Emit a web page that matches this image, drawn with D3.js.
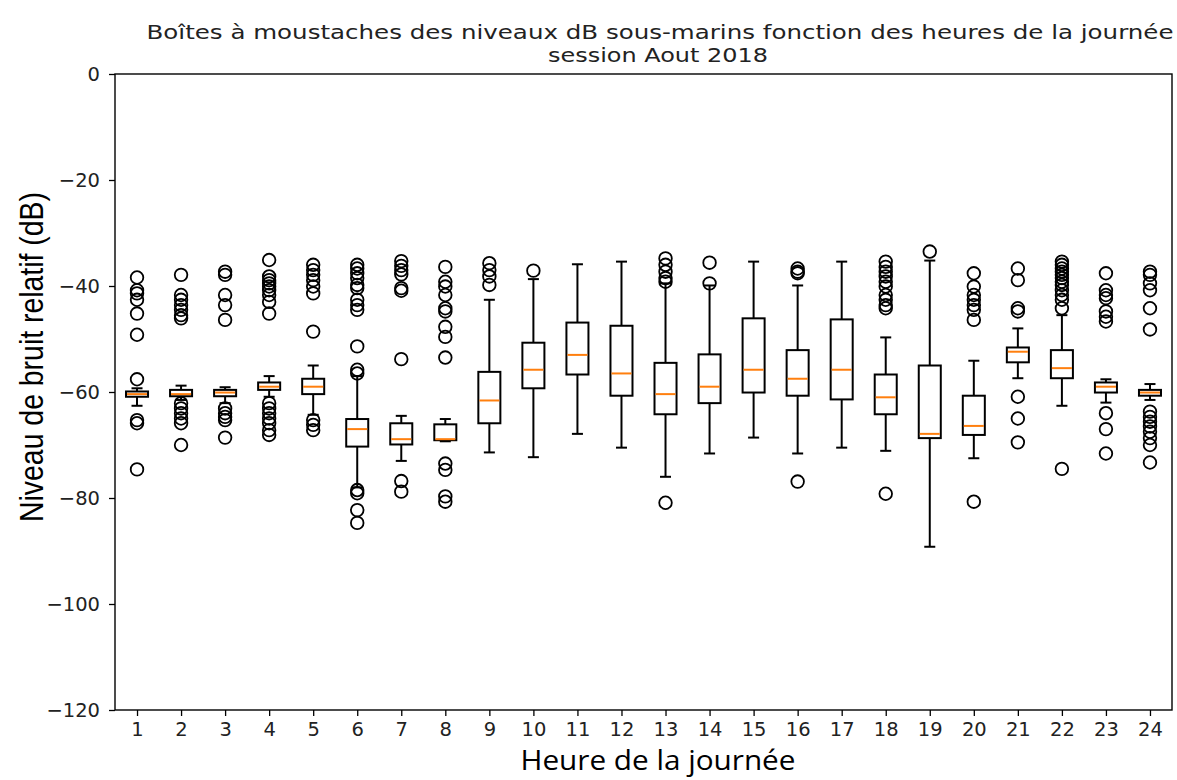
<!DOCTYPE html>
<html><head><meta charset="utf-8">
<script src="https://cdn.jsdelivr.net/npm/d3@7"></script>
<style>body{margin:0;background:#fff}</style>
</head><body>
<svg id="c" width="1177" height="780"></svg>
<script>
const hours = d3.range(1,25);
const whiskLo = [-62.6,-61.5,-62.1,-60.9,-64.3,-78.0,-73.0,-69.3,-71.4,-72.3,-67.9,-70.5,-76.0,-71.6,-68.6,-71.6,-70.5,-71.1,-89.2,-72.5,-57.4,-62.6,-62.0,-61.5];
const q1 =      [-60.9,-60.8,-60.8,-59.6,-60.4,-70.3,-69.9,-69.1,-65.9,-59.3,-56.7,-60.7,-64.2,-62.1,-60.1,-60.7,-61.4,-64.2,-68.7,-68.1,-54.4,-57.4,-60.1,-60.7];
const medians = [-60.4,-60.4,-60.1,-59.0,-59.0,-67.0,-68.9,-68.9,-61.6,-55.8,-53.0,-56.5,-60.4,-59.0,-55.8,-57.5,-55.8,-61.0,-67.9,-66.4,-52.4,-55.5,-59.0,-60.1];
const q3 =      [-59.9,-59.6,-59.6,-58.2,-57.5,-65.1,-65.9,-66.1,-56.2,-50.7,-46.9,-47.5,-54.5,-52.9,-46.1,-52.1,-46.3,-56.7,-55.0,-60.7,-51.6,-52.1,-58.2,-59.6];
const whiskHi = [-59.3,-58.8,-59.1,-57.0,-55.0,-57.0,-64.5,-65.1,-42.6,-38.7,-35.9,-35.4,-39.5,-39.9,-35.4,-39.9,-35.4,-49.7,-35.2,-54.1,-48.0,-45.5,-57.6,-58.5];
const outliers = [
 [-38.4,-40.8,-41.4,-42.6,-45.2,-49.2,-57.6,-65.3,-65.9,-74.6],
 [-37.9,-41.7,-42.6,-43.6,-44.5,-45.5,-46.1,-62.1,-63.1,-64.0,-65.0,-65.9,-70.0],
 [-37.3,-37.9,-41.7,-43.6,-46.4,-63.1,-64.0,-64.7,-65.3,-68.6],
 [-35.1,-38.2,-38.9,-39.5,-40.1,-40.8,-41.7,-43.0,-45.2,-62.1,-63.1,-64.0,-65.0,-65.9,-67.2,-68.1],
 [-36.0,-37.0,-37.9,-38.9,-40.1,-41.4,-48.6,-65.3,-66.2,-67.2],
 [-36.0,-36.7,-37.6,-38.5,-39.8,-40.4,-42.6,-43.6,-44.5,-51.4,-55.8,-56.5,-78.5,-79.1,-82.3,-84.7],
 [-35.3,-36.2,-37.0,-37.8,-40.4,-40.9,-53.8,-76.8,-78.8],
 [-36.4,-39.2,-40.1,-41.7,-44.2,-44.8,-47.7,-49.6,-53.5,-73.5,-74.7,-79.7,-80.7],
 [-35.7,-37.0,-38.2,-39.8],
 [-37.1],
 [],
 [],
 [-34.8,-36.0,-37.3,-38.5,-39.2,-80.9],
 [-35.6,-39.5],
 [],
 [-36.7,-37.3,-37.6,-76.9],
 [],
 [-35.4,-36.4,-37.3,-38.2,-39.2,-40.1,-41.7,-42.6,-43.6,-44.2,-79.2],
 [-33.5],
 [-37.6,-40.1,-41.7,-42.6,-43.6,-44.5,-46.4,-80.7],
 [-36.7,-38.9,-44.2,-44.8,-60.9,-65.0,-69.5],
 [-35.4,-36.0,-36.7,-37.3,-37.9,-38.5,-39.2,-39.8,-40.8,-41.7,-42.6,-44.2,-74.5],
 [-37.6,-40.8,-41.7,-42.3,-44.8,-45.8,-46.7,-64.0,-67.0,-71.6],
 [-37.3,-37.9,-39.5,-40.8,-44.2,-48.2,-63.7,-64.7,-65.6,-66.5,-67.5,-68.7,-70.0,-73.3]
];
const yTicks = [0,-20,-40,-60,-80,-100,-120];
const title1 = "Boîtes à moustaches des niveaux dB sous-marins fonction des heures de la journée";
const title2 = "session Aout 2018";
const xLabel = "Heure de la journée";
const yLabel = "Niveau de bruit relatif (dB)";

const svg = d3.select("#c");
const L=115,R=1172,T=74,B=710;
const x = d3.scaleLinear().domain([0.5,24.5]).range([L,R]);
const y = d3.scaleLinear().domain([-120,0]).range([B,T]);
const bw = x(1.25)-x(1), cw = x(1.125)-x(1);

const g = svg.append("g");
hours.forEach((h,i)=>{
  const cx = x(h);
  const grp = g.append("g").attr("stroke","#000").attr("stroke-width",2).attr("fill","none");
  grp.append("line").attr("x1",cx).attr("x2",cx).attr("y1",y(q1[i])).attr("y2",y(whiskLo[i]));
  grp.append("line").attr("x1",cx).attr("x2",cx).attr("y1",y(q3[i])).attr("y2",y(whiskHi[i]));
  grp.append("line").attr("x1",cx-cw).attr("x2",cx+cw).attr("y1",y(whiskLo[i])).attr("y2",y(whiskLo[i]));
  grp.append("line").attr("x1",cx-cw).attr("x2",cx+cw).attr("y1",y(whiskHi[i])).attr("y2",y(whiskHi[i]));
  grp.append("rect").attr("x",cx-bw).attr("width",2*bw).attr("y",y(q3[i])).attr("height",y(q1[i])-y(q3[i]));
  grp.append("line").attr("x1",cx-bw+1).attr("x2",cx+bw-1).attr("y1",y(medians[i])).attr("y2",y(medians[i])).attr("stroke","#ff7f0e");
  outliers[i].forEach(v=>{
    grp.append("circle").attr("cx",cx).attr("cy",y(v)).attr("r",6.3).attr("stroke-width",1.8);
  });
});

// frame
svg.append("rect").attr("x",L).attr("y",T).attr("width",R-L).attr("height",B-T)
  .attr("fill","none").attr("stroke","#000").attr("stroke-width",1.4);

const ax = svg.append("g").attr("transform",`translate(0,${B})`)
  .call(d3.axisBottom(x).tickValues(hours).tickSize(6).tickPadding(6).tickFormat(d3.format("d")));
const ay = svg.append("g").attr("transform",`translate(${L},0)`)
  .call(d3.axisLeft(y).tickValues(yTicks).tickSize(6).tickPadding(9));
[ax,ay].forEach(a=>{
  a.select(".domain").remove();
  a.selectAll("line").attr("stroke","#000").attr("stroke-width",1.3);
  a.selectAll("text").attr("font-family","DejaVu Sans").attr("font-size",19.5).attr("fill","#222");
});

svg.append("text").attr("x",660).attr("y",39).attr("text-anchor","middle")
  .attr("font-family","DejaVu Sans").attr("font-size",20).attr("fill","#222")
  .attr("textLength",1027).attr("lengthAdjust","spacingAndGlyphs").text(title1);
svg.append("text").attr("x",658).attr("y",62).attr("text-anchor","middle")
  .attr("font-family","DejaVu Sans").attr("font-size",20).attr("fill","#222")
  .attr("textLength",220).attr("lengthAdjust","spacingAndGlyphs").text(title2);
svg.append("text").attr("x",658).attr("y",770).attr("text-anchor","middle")
  .attr("font-family","Open Sans").attr("font-size",27).attr("fill","#000")
  .attr("textLength",275).attr("lengthAdjust","spacingAndGlyphs").text(xLabel);
svg.append("text").attr("transform","translate(43,357) scale(1.36,1) rotate(-90)").attr("text-anchor","middle")
  .attr("font-family","Liberation Sans").attr("font-size",25).attr("fill","#000")
  .attr("textLength",330).attr("lengthAdjust","spacingAndGlyphs").text(yLabel);
</script>
</body></html>
